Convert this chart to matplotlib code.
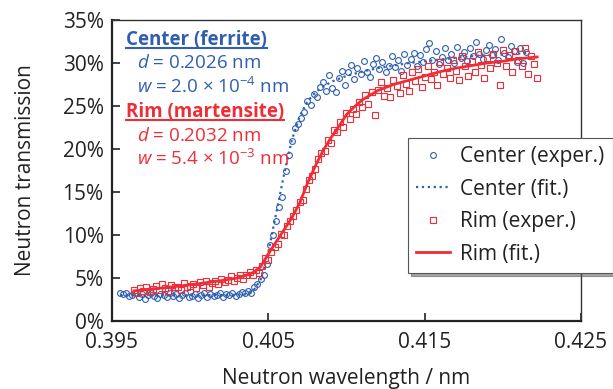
import matplotlib
matplotlib.use("Agg")
import matplotlib.pyplot as plt
from matplotlib.lines import Line2D

plt.rcParams['font.family'] = ['Open Sans', 'DejaVu Sans']
plt.rcParams['mathtext.fontset'] = 'custom'
plt.rcParams['mathtext.rm'] = 'Open Sans'
plt.rcParams['mathtext.it'] = 'Open Sans:italic'

BLUE = '#2f5fae'
RED = '#ee2d36'

# center (ferrite) measured points, wavelength in nm, transmission in %
center_x = [0.3955, 0.3957, 0.3959, 0.3961, 0.3963, 0.3965, 0.3967, 0.3969, 0.3971, 0.3973,
            0.3975, 0.3977, 0.3979, 0.3981, 0.3983, 0.3985, 0.3987, 0.3989, 0.3991, 0.3993,
            0.3995, 0.3997, 0.3999, 0.4001, 0.4003, 0.4005, 0.4007, 0.4009, 0.4011, 0.4013,
            0.4015, 0.4017, 0.4019, 0.4021, 0.4023, 0.4025, 0.4027, 0.4029, 0.4031, 0.4033,
            0.4035, 0.4037, 0.4039, 0.4041, 0.4043, 0.4045, 0.4047, 0.4049, 0.4051, 0.4053,
            0.4055, 0.4057, 0.4059, 0.4061, 0.4063, 0.4065, 0.4067, 0.4069, 0.4071, 0.4073,
            0.4075, 0.4077, 0.4079, 0.4081, 0.4083, 0.4085, 0.4087, 0.4089, 0.4091, 0.4093,
            0.4095, 0.4097, 0.4099, 0.4101, 0.4103, 0.4105, 0.4107, 0.4109, 0.4111, 0.4113,
            0.4115, 0.4117, 0.4119, 0.4121, 0.4123, 0.4125, 0.4127, 0.4129, 0.4131, 0.4133,
            0.4135, 0.4137, 0.4139, 0.4141, 0.4143, 0.4145, 0.4147, 0.4149, 0.4151, 0.4153,
            0.4155, 0.4157, 0.4159, 0.4161, 0.4163, 0.4165, 0.4167, 0.4169, 0.4171, 0.4173,
            0.4175, 0.4177, 0.4179, 0.4181, 0.4183, 0.4185, 0.4187, 0.4189, 0.4191, 0.4193,
            0.4195, 0.4197, 0.4199, 0.4201, 0.4203, 0.4205, 0.4207, 0.4209, 0.4211, 0.4213,
            0.4215]
center_y = [3.3, 3.1, 3.2, 2.9, 3.0, 3.2, 2.8, 3.1, 2.6, 3.0,
            3.2, 2.9, 2.7, 3.1, 3.0, 2.8, 3.3, 2.9, 3.1, 2.7,
            3.0, 3.2, 2.8, 2.9, 3.1, 2.7, 3.0, 3.2, 2.8, 3.1,
            2.9, 3.0, 3.3, 2.8, 3.1, 3.0, 3.2, 2.9, 3.1, 3.4,
            3.3, 3.5, 3.2, 3.9, 4.3, 4.9, 5.4, 6.6, 8.8, 10.0,
            11.6, 13.2, 14.4, 17.5, 19.3, 20.9, 22.4, 22.9, 23.6, 24.3,
            25.6, 25.1, 26.4, 26.0, 27.2, 27.8, 26.7, 28.6, 27.1, 26.6,
            28.2, 29.1, 27.4, 28.9, 29.8, 28.1, 29.4, 28.7, 30.2, 29.0,
            28.4, 29.9, 30.6, 29.3, 30.1, 28.9, 29.7, 30.8, 29.5, 30.3,
            29.1, 31.0, 29.8, 30.5, 31.2, 29.6, 30.9, 30.1, 31.6, 32.3,
            30.4, 31.4, 29.9, 30.7, 31.8, 30.3, 31.1, 30.0, 31.9, 30.6,
            31.3, 30.2, 31.7, 30.8, 32.4, 31.0, 30.5, 31.5, 32.1, 30.9,
            31.6, 30.4, 32.8, 31.2, 30.7, 32.0, 31.4, 30.1, 31.8, 30.0,
            31.3]

# rim (martensite) measured points
rim_x = [0.3964, 0.3966, 0.3968, 0.3970, 0.3972, 0.3974, 0.3976, 0.3978, 0.3980, 0.3982,
         0.3984, 0.3986, 0.3988, 0.3990, 0.3992, 0.3994, 0.3996, 0.3998, 0.4000, 0.4002,
         0.4004, 0.4006, 0.4008, 0.4010, 0.4012, 0.4014, 0.4016, 0.4018, 0.4020, 0.4022,
         0.4024, 0.4026, 0.4028, 0.4030, 0.4032, 0.4034, 0.4036, 0.4038, 0.4040, 0.4042,
         0.4044, 0.4046, 0.4048, 0.4050, 0.4052, 0.4054, 0.4056, 0.4058, 0.4060, 0.4062,
         0.4064, 0.4066, 0.4068, 0.4070, 0.4072, 0.4074, 0.4076, 0.4078, 0.4080, 0.4082,
         0.4084, 0.4086, 0.4088, 0.4090, 0.4092, 0.4094, 0.4096, 0.4098, 0.4100, 0.4102,
         0.4104, 0.4106, 0.4108, 0.4110, 0.4112, 0.4114, 0.4116, 0.4118, 0.4120, 0.4122,
         0.4124, 0.4126, 0.4128, 0.4130, 0.4132, 0.4134, 0.4136, 0.4138, 0.4140, 0.4142,
         0.4144, 0.4146, 0.4148, 0.4150, 0.4152, 0.4154, 0.4156, 0.4158, 0.4160, 0.4162,
         0.4164, 0.4166, 0.4168, 0.4170, 0.4172, 0.4174, 0.4176, 0.4178, 0.4180, 0.4182,
         0.4184, 0.4186, 0.4188, 0.4190, 0.4192, 0.4194, 0.4196, 0.4198, 0.4200, 0.4202,
         0.4204, 0.4206, 0.4208, 0.4210, 0.4212, 0.4214, 0.4216, 0.4218, 0.4220, 0.4222]
rim_y = [3.6, 3.3, 3.8, 3.5, 3.9, 3.4, 3.7, 4.1, 3.6, 4.3,
         3.8, 3.5, 4.2, 3.9, 4.0, 3.6, 4.4, 3.9, 4.1, 4.3,
         3.8, 4.5, 4.2, 4.6, 4.0, 4.4, 4.7, 4.3, 4.9, 4.5,
         4.8, 5.2, 4.6, 5.0, 5.4, 4.9, 5.3, 5.7, 5.4, 5.9,
         5.6, 6.4, 7.3, 7.1, 8.0, 8.6, 8.9, 10.1, 10.0, 11.0,
         11.6, 12.2, 12.9, 13.8, 14.1, 15.3, 16.4, 16.9, 17.7, 18.8,
         19.5, 19.8, 21.0, 20.7, 22.2, 22.0, 23.1, 22.6, 24.2, 23.5,
         24.7, 24.1, 25.5, 24.9, 26.3, 25.2, 26.6, 24.0, 26.9, 27.8,
         26.2, 27.1, 26.0, 28.0, 27.3, 26.5, 28.6, 27.6, 26.8, 28.9,
         27.9, 29.3, 27.2, 28.4, 29.6, 28.1, 29.0, 27.5, 30.1, 28.7,
         29.4, 28.2, 30.4, 29.1, 28.0, 30.8, 29.6, 28.5, 30.2, 29.0,
         31.3, 29.8, 28.3, 30.6, 29.4, 31.0, 30.0, 27.5, 31.5, 29.7,
         30.9, 28.9, 31.4, 30.3, 29.6, 31.7, 28.7, 30.8, 29.9, 28.3]

# fitted curves
center_fit_x = [0.3955, 0.3970, 0.3990, 0.4010, 0.4030, 0.4035, 0.4040, 0.4045, 0.4050, 0.4055,
                0.4060, 0.4065, 0.4070, 0.4075, 0.4080, 0.4090, 0.4100, 0.4110, 0.4120, 0.4130,
                0.4140, 0.4150, 0.4160, 0.4170, 0.4180, 0.4190, 0.4200, 0.4210, 0.4215]
center_fit_y = [3.0, 3.0, 3.0, 3.0, 3.05, 3.1, 3.4, 4.8, 8.0, 12.5,
                17.0, 21.0, 23.8, 25.5, 26.6, 27.8, 28.5, 29.0, 29.4, 29.7,
                30.0, 30.2, 30.4, 30.6, 30.8, 30.9, 31.0, 31.1, 31.15]
rim_fit_x = [0.3964, 0.3980, 0.4000, 0.4020, 0.4030, 0.4040, 0.4045, 0.4050, 0.4055, 0.4060,
             0.4065, 0.4070, 0.4075, 0.4080, 0.4085, 0.4090, 0.4095, 0.4100, 0.4105, 0.4110,
             0.4120, 0.4130, 0.4140, 0.4150, 0.4160, 0.4170, 0.4180, 0.4190, 0.4200, 0.4210,
             0.4222]
rim_fit_y = [3.5, 3.8, 4.2, 4.7, 5.0, 5.6, 6.3, 7.8, 9.2, 10.6,
             12.0, 13.7, 16.0, 18.0, 19.8, 21.3, 22.6, 24.0, 24.9, 25.7,
             26.8, 27.5, 28.0, 28.5, 29.0, 29.4, 29.7, 30.0, 30.2, 30.5,
             30.7]

x_ticks = [0.395, 0.405, 0.415, 0.425]
y_ticks = [0, 5, 10, 15, 20, 25, 30, 35]

W, H = 613, 389
fig = plt.figure(figsize=(W / 100, H / 100), dpi=100)
ax = fig.add_axes([112 / W, 1 - 321 / H, (581 - 112) / W, (321 - 20) / H])

ax.plot(center_x, center_y, 'o', ms=4.2, mfc='none', mec=BLUE, mew=0.8, label='Center (exper.)')
ax.plot(center_fit_x, center_fit_y, ':', color=BLUE, lw=1.6, label='Center (fit.)')
ax.plot(rim_x, rim_y, 's', ms=4.2, mfc='none', mec=RED, mew=0.8, label='Rim (exper.)')
ax.plot(rim_fit_x, rim_fit_y, '-', color=RED, lw=2, label='Rim (fit.)')

ax.set_xlim(0.395, 0.425)
ax.set_ylim(0, 35)
ax.set_xticks(x_ticks)
ax.set_xticklabels([f'{t:.3f}' for t in x_ticks])
ax.set_yticks(y_ticks)
ax.set_yticklabels([f'{t}%' for t in y_ticks])
ax.tick_params(direction='in', length=6, width=1.2, labelsize=15, colors='#222222')
ax.tick_params(axis='x', pad=8)
ax.tick_params(axis='y', pad=6)
for s in ['left', 'bottom']:
    ax.spines[s].set_linewidth(1.6)
    ax.spines[s].set_color('#222222')
for s in ['top', 'right']:
    ax.spines[s].set_linewidth(1.0)
    ax.spines[s].set_color('#333333')

ax.set_xlabel('Neutron wavelength / nm', fontsize=15, color='#222222', labelpad=11)
ax.set_ylabel('Neutron transmission', fontsize=15, color='#222222', labelpad=19)

leg = ax.legend(loc='upper left', bbox_to_anchor=(408 / W, 1 - 138 / H),
                bbox_transform=fig.transFigure, fontsize=15, frameon=True,
                fancybox=False, shadow=True, handlelength=1.6, handletextpad=0.5,
                borderpad=0.4, labelspacing=0.55, borderaxespad=0)
leg.get_frame().set_edgecolor('#555555')
leg.get_frame().set_linewidth(0.8)
for t in leg.get_texts():
    t.set_color('#222222')

# annotation text
t1 = fig.text(126 / W, 1 - 40 / H, 'Center (ferrite)', color=BLUE, fontsize=13.5,
              fontweight='bold', va='center')
fig.text(137 / W, 1 - 63 / H, r'$\mathit{d}$ = 0.2026 nm', color=BLUE, fontsize=13.5, va='center')
fig.text(137 / W, 1 - 87 / H, r'$\mathit{w}$ = 2.0 × 10$^{-4}$ nm', color=BLUE, fontsize=13.5, va='center')
t2 = fig.text(126 / W, 1 - 112 / H, 'Rim (martensite)', color=RED, fontsize=13.5,
              fontweight='bold', va='center')
fig.text(137 / W, 1 - 136 / H, r'$\mathit{d}$ = 0.2032 nm', color=RED, fontsize=13.5, va='center')
fig.text(137 / W, 1 - 159 / H, r'$\mathit{w}$ = 5.4 × 10$^{-3}$ nm', color=RED, fontsize=13.5, va='center')

# underline the two headings
renderer = fig.canvas.get_renderer()
for t, c in [(t1, BLUE), (t2, RED)]:
    bb = t.get_window_extent(renderer=renderer)
    yl = bb.y0 + 2
    fig.add_artist(Line2D([bb.x0 / W, bb.x1 / W], [yl / H, yl / H], color=c, lw=1.5))

fig.savefig('out.png', dpi=100)
